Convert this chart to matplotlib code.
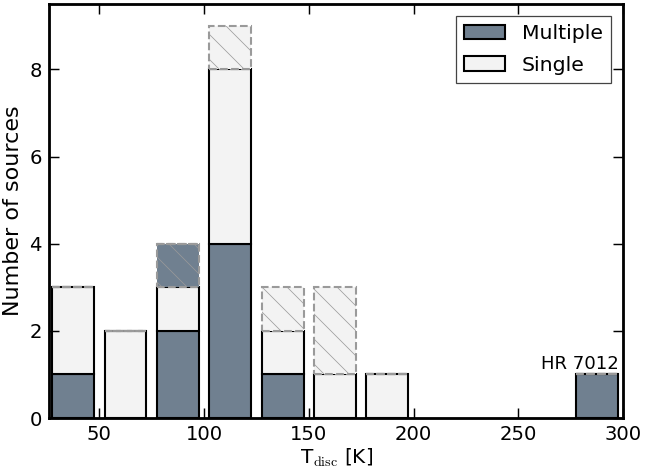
import matplotlib
matplotlib.use('Agg')
import matplotlib.pyplot as plt
import numpy as np

plt.rcParams['mathtext.fontset'] = 'cm'
plt.rcParams['hatch.linewidth'] = 0.35

# bins of 25 K from 25 to 300 K
bin_edges = np.arange(25, 301, 25)
multiple = [1, 0, 2, 4, 1, 0, 0, 0, 0, 0, 1]
single = [2, 2, 1, 4, 1, 1, 1, 0, 0, 0, 0]
multiple_unc = [0, 0, 1, 0, 0, 0, 0, 0, 0, 0, 0]   # dashed / hatched
single_unc = [0, 0, 0, 1, 1, 2, 0, 0, 0, 0, 0]

c_mult = '#708090'
c_sing = '#f3f3f3'

centers = bin_edges[:-1] + 12.5
width = 25 * 0.8

multiple = np.array(multiple)
single = np.array(single)
multiple_unc = np.array(multiple_unc)
single_unc = np.array(single_unc)
filled = (multiple + single + multiple_unc + single_unc) > 0

# drawn at dpi 150 so the hatch spacing is like the original
fig = plt.figure(figsize=(4.3, 475 / 150), dpi=150)
ax = fig.add_axes([0.076, 0.12, 0.8899, 0.8716])

ax.bar(centers[filled], multiple[filled], width, color=c_mult, edgecolor='black', linewidth=1.0, label='Multiple')
ax.bar(centers[filled], single[filled], width, bottom=multiple[filled], color=c_sing,
       edgecolor='black', linewidth=1.0, label='Single')
b2 = multiple + single
ax.bar(centers[filled], multiple_unc[filled], width, bottom=b2[filled], color=c_mult,
       edgecolor='#9a9a9a', linewidth=1.0, linestyle='--', hatch='\\\\')
b3 = b2 + multiple_unc
ax.bar(centers[filled], single_unc[filled], width, bottom=b3[filled], color=c_sing,
       edgecolor='#9a9a9a', linewidth=1.0, linestyle='--', hatch='\\\\')

ax.text(298, 1.04, 'HR 7012', ha='right', va='bottom', fontsize=8.7)

ax.set_xlim(26, 300)
ax.set_ylim(0, 9.5)
ax.set_xticks([50, 100, 150, 200, 250, 300])
ax.set_yticks([0, 2, 4, 6, 8])
ax.tick_params(direction='in', length=4.7, width=0.7, labelsize=9.4, top=True, right=True)
for s in ax.spines.values():
    s.set_linewidth(1.35)

ax.set_xlabel(r'T$_{\rm disc}$ [K]', fontsize=9.6, labelpad=1)
ax.set_ylabel('Number of sources', fontsize=10.7, labelpad=3)

leg = ax.legend(loc='upper right', fontsize=9.8, fancybox=False, framealpha=1,
                labelspacing=0.6, borderaxespad=0.6)
leg.get_frame().set_edgecolor('#444444')
leg.get_frame().set_linewidth(0.6)

fig.savefig('out.png', dpi=150)
